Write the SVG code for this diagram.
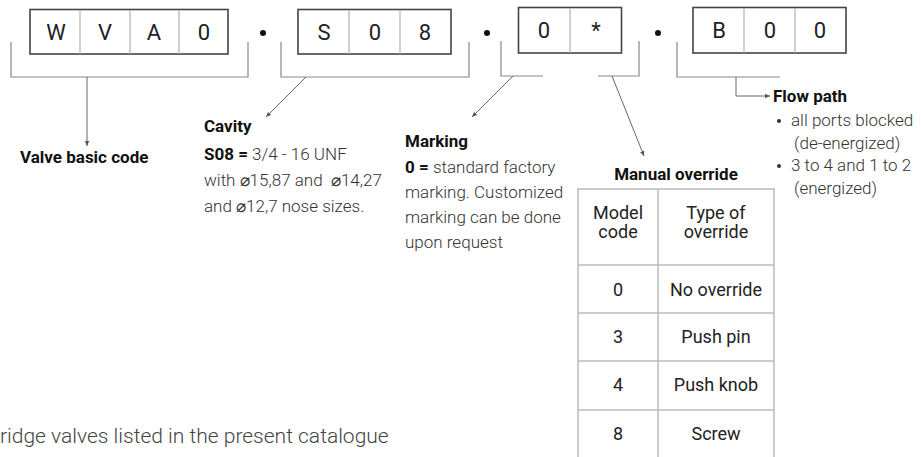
<svg xmlns="http://www.w3.org/2000/svg" width="921" height="457" viewBox="0 0 921 457">
<defs>
<marker id="ah" markerWidth="6" markerHeight="6" refX="5" refY="3" orient="auto" markerUnits="userSpaceOnUse">
<path d="M0,0.8 L5,3 L0,5.2 Z" fill="#555"/>
</marker>
<style>
.box{fill:#fff;stroke:#444;stroke-width:1.6}
.div{stroke:#b0b0b0;stroke-width:1.2}
.code{font-family:Roboto,"Liberation Sans",sans-serif;font-size:22px;fill:#222;text-anchor:middle}
.br{fill:none;stroke:#888;stroke-width:1.2}
.ar{fill:none;stroke:#666;stroke-width:1;marker-end:url(#ah)}
.h{font-family:Roboto,"Liberation Sans",sans-serif;font-weight:700;font-size:17px;fill:#111}
.t{font-family:Roboto,"Liberation Sans",sans-serif;font-weight:300;font-size:17px;fill:#333}
.tb{font-family:Roboto,"Liberation Sans",sans-serif;font-weight:700;font-size:17px;fill:#111}
.tab{fill:none;stroke:#bbb;stroke-width:1.5}
.tc{font-family:Roboto,"Liberation Sans",sans-serif;font-size:18px;fill:#222;text-anchor:middle}
.foot{font-family:Roboto,"Liberation Sans",sans-serif;font-weight:300;font-size:21px;fill:#444}
</style>
</defs>

<g id="box-basic">
<rect class="box" x="30" y="9.5" width="198" height="44.5"/>
<line class="div" x1="80" y1="10" x2="80" y2="54"/>
<line class="div" x1="130" y1="10" x2="130" y2="54"/>
<line class="div" x1="179" y1="10" x2="179" y2="54"/>
<text class="code" x="56" y="40">W</text>
<text class="code" x="105" y="40">V</text>
<text class="code" x="154" y="40">A</text>
<text class="code" x="204" y="40">0</text>
</g>
<circle cx="263" cy="33" r="3" fill="#111"/>
<g id="box-cavity">
<rect class="box" x="298" y="9.5" width="153" height="44.5"/>
<line class="div" x1="349" y1="10" x2="349" y2="54"/>
<line class="div" x1="400" y1="10" x2="400" y2="54"/>
<text class="code" x="324" y="40">S</text>
<text class="code" x="375" y="40">0</text>
<text class="code" x="425" y="40">8</text>
</g>
<circle cx="487" cy="33" r="3" fill="#111"/>
<g id="box-marking">
<rect class="box" x="518.5" y="7.5" width="103" height="45.5"/>
<line class="div" x1="570" y1="8" x2="570" y2="53"/>
<text class="code" x="544" y="38">0</text>
<text class="code" x="596" y="38">*</text>
</g>
<circle cx="658" cy="33" r="3" fill="#111"/>
<g id="box-flow">
<rect class="box" x="693" y="7.5" width="153" height="45.5"/>
<line class="div" x1="744" y1="8" x2="744" y2="53"/>
<line class="div" x1="795" y1="8" x2="795" y2="53"/>
<text class="code" x="719" y="38">B</text>
<text class="code" x="770" y="38">0</text>
<text class="code" x="820" y="38">0</text>
</g>

<g id="connectors">
<path class="br" d="M11,42 V77 H248 V42"/>
<path class="ar" d="M87,77 V146"/>
<path class="br" d="M281,42 V77 H469 V42"/>
<path class="ar" d="M306,77 L266,117"/>
<path class="br" d="M501,41 V76 H543"/>
<path class="ar" d="M513,76 L472,117"/>
<path class="br" d="M598,76 H639 V41"/>
<path class="ar" d="M612,76 L644,156"/>
<path class="br" d="M677,42 V77 H780"/>
<path class="ar" d="M736,77 V96 H770"/>
</g>

<g id="label-basic">
<text class="h" x="20" y="163">Valve basic code</text>
</g>
<g id="label-cavity">
<text class="h" x="204" y="132">Cavity</text>
<text class="t" x="204" y="160"><tspan class="tb">S08 =</tspan> 3/4 - 16 UNF</text>
<text class="t" x="204" y="186">with ⌀15,87 and &#160;⌀14,27</text>
<text class="t" x="204" y="212">and ⌀12,7 nose sizes.</text>
</g>
<g id="label-marking">
<text class="h" x="405" y="147">Marking</text>
<text class="t" x="405" y="173"><tspan class="tb">0 =</tspan> standard factory</text>
<text class="t" x="405" y="198">marking. Customized</text>
<text class="t" x="405" y="223">marking can be done</text>
<text class="t" x="405" y="248">upon request</text>
</g>
<g id="label-flow">
<text class="h" x="773" y="102">Flow path</text>
<circle cx="779" cy="121" r="2" fill="#333"/>
<text class="t" x="791" y="126">all ports blocked</text>
<text class="t" x="794" y="149">(de-energized)</text>
<circle cx="779" cy="166" r="2" fill="#333"/>
<text class="t" x="791" y="171">3 to 4 and 1 to 2</text>
<text class="t" x="794" y="194">(energized)</text>
</g>
<g id="manual-override">
<text class="h" x="676" y="180" text-anchor="middle" font-size="16.5">Manual override</text>
<path class="tab" d="M578,457 V189 H774 V457"/>
<line class="tab" x1="658" y1="189" x2="658" y2="457"/>
<line class="tab" x1="578" y1="265" x2="774" y2="265"/>
<line class="tab" x1="578" y1="313" x2="774" y2="313"/>
<line class="tab" x1="578" y1="361" x2="774" y2="361"/>
<line class="tab" x1="578" y1="410" x2="774" y2="410"/>
<text class="tc" x="618" y="219">Model</text>
<text class="tc" x="618" y="238">code</text>
<text class="tc" x="716" y="219">Type of</text>
<text class="tc" x="716" y="238">override</text>
<text class="tc" x="618" y="296">0</text>
<text class="tc" x="716" y="296">No override</text>
<text class="tc" x="618" y="343">3</text>
<text class="tc" x="716" y="343">Push pin</text>
<text class="tc" x="618" y="391">4</text>
<text class="tc" x="716" y="391">Push knob</text>
<text class="tc" x="618" y="440">8</text>
<text class="tc" x="716" y="440">Screw</text>
</g>
<text class="foot" x="0" y="443">ridge valves listed in the present catalogue</text>
</svg>
